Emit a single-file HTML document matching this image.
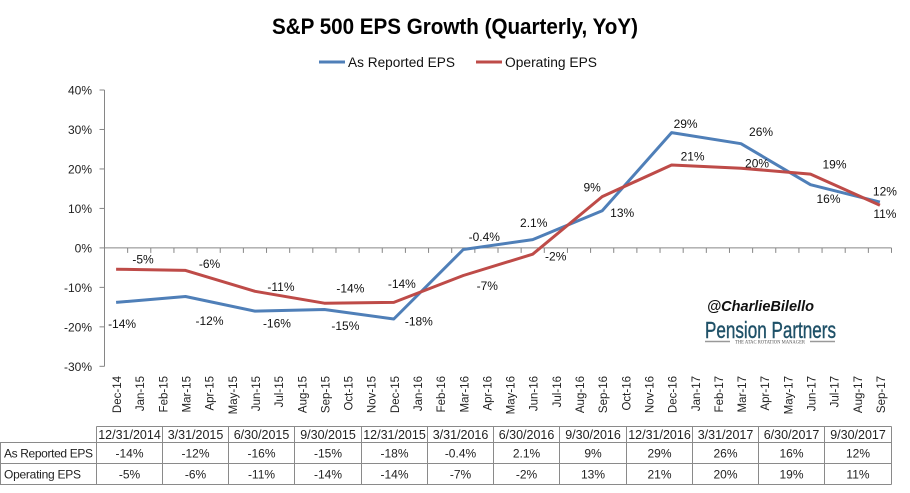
<!DOCTYPE html>
<html lang="en">
<head>
<meta charset="utf-8">
<title>S&amp;P 500 EPS Growth (Quarterly, YoY)</title>
<style>
html,body{margin:0;padding:0;background:#fff;width:910px;height:493px;overflow:hidden}
svg{display:block;font-family:"Liberation Sans",sans-serif}
</style>
</head>
<body>
<svg id="chart" width="910" height="493" viewBox="0 0 910 493" xmlns="http://www.w3.org/2000/svg">
  <rect width="910" height="493" fill="#ffffff"/>
  <text x="272" y="34" font-size="22" font-weight="bold" fill="#000" textLength="366" lengthAdjust="spacingAndGlyphs">S&amp;P 500 EPS Growth (Quarterly, YoY)</text>
  <g>
    <line x1="319" y1="62" x2="345" y2="62" stroke="#4F7FB8" stroke-width="3"/>
    <text x="348" y="67" font-size="13.5" fill="#111" textLength="107" lengthAdjust="spacingAndGlyphs">As Reported EPS</text>
    <line x1="476" y1="62" x2="502" y2="62" stroke="#BE4B48" stroke-width="3"/>
    <text x="505" y="67" font-size="13.5" fill="#111" textLength="92" lengthAdjust="spacingAndGlyphs">Operating EPS</text>
  </g>
  <g id="axes"></g>
  <g id="series"></g>
  <g id="labels"></g>
  <g>
    <text x="707" y="311" font-size="15" font-weight="bold" font-style="italic" fill="#111" textLength="107" lengthAdjust="spacingAndGlyphs">@CharlieBilello</text>
    <text x="705" y="338" font-size="23.5" fill="#1f5168" stroke="#1f5168" stroke-width="0.4" textLength="131" lengthAdjust="spacingAndGlyphs">Pension Partners</text>
    <line x1="705" y1="341.5" x2="730" y2="341.5" stroke="#999" stroke-width="1.6"/>
    <line x1="810" y1="341.5" x2="835" y2="341.5" stroke="#999" stroke-width="1.6"/>
    <text x="735" y="343.5" font-size="5" font-family="Liberation Serif, serif" fill="#555" textLength="70" lengthAdjust="spacingAndGlyphs">THE ATAC ROTATION MANAGER</text>
  </g>
  <g id="table"></g>
</svg>
<script>
// ---- data ----
const months = ["Dec-14","Jan-15","Feb-15","Mar-15","Apr-15","May-15","Jun-15","Jul-15","Aug-15","Sep-15","Oct-15","Nov-15","Dec-15","Jan-16","Feb-16","Mar-16","Apr-16","May-16","Jun-16","Jul-16","Aug-16","Sep-16","Oct-16","Nov-16","Dec-16","Jan-17","Feb-17","Mar-17","Apr-17","May-17","Jun-17","Jul-17","Aug-17","Sep-17"];
const quarterMonths = ["Dec-14","Mar-15","Jun-15","Sep-15","Dec-15","Mar-16","Jun-16","Sep-16","Dec-16","Mar-17","Jun-17","Sep-17"];
const quarterDates = ["12/31/2014","3/31/2015","6/30/2015","9/30/2015","12/31/2015","3/31/2016","6/30/2016","9/30/2016","12/31/2016","3/31/2017","6/30/2017","9/30/2017"];
const asReported = [-13.8,-12.3,-16,-15.6,-18,-0.4,2.1,9.4,29.2,26.4,16,11.6];
const operating = [-5.4,-5.7,-11,-14,-13.8,-7,-1.6,13,21,20.2,18.7,10.8];
const asReportedText = ["-14%","-12%","-16%","-15%","-18%","-0.4%","2.1%","9%","29%","26%","16%","12%"];
const operatingText = ["-5%","-6%","-11%","-14%","-14%","-7%","-2%","13%","21%","20%","19%","11%"];
const yTicks = [40,30,20,10,0,-10,-20,-30];

// ---- manual label nudges (dx, dy from each point, as in the source chart) ----
const asReportedNudge = [[6,21],[24,24],[22,12],[21,16],[25,2],[21,-13],[1,-17],[-10,-24],[14,-9],[20,-12],[18,14],[5,-11]];
const operatingNudge = [[27,-10],[24,-7],[26,-5],[26,-15],[8,-19],[24,10],[23,2],[20,16],[21,-9],[16,-5],[24,-10],[5,8]];

// ---- scales ----
const plotLeft = 104.5, plotRight = 891.5, y40 = 90, y0 = 247.9, pxPerPct = (y0 - y40) / 40;
const step = (plotRight - plotLeft) / months.length;
const xScale = i => plotLeft + step * (i + 0.5);
const yScale = v => y0 - v * pxPerPct;
const NS = "http://www.w3.org/2000/svg";
const AXIS = "#868686";
const make = (parent, tag, attrs, txt) => {
  const n = document.createElementNS(NS, tag);
  for (const k in attrs) n.setAttribute(k, attrs[k]);
  if (txt !== undefined) n.textContent = txt;
  parent.appendChild(n);
  return n;
};
const axes = document.getElementById("axes");
const seriesG = document.getElementById("series");
const labelsG = document.getElementById("labels");
const tableG = document.getElementById("table");

// ---- y axis ----
let el = make(axes, "line", {x1: plotLeft, x2: plotLeft, y1: yScale(yTicks[0]), y2: yScale(yTicks[yTicks.length - 1]), stroke: AXIS, "stroke-width": 1});


yTicks.forEach(t => {
  const tick = make(axes, "line", {x1: plotLeft - 5, x2: plotLeft, y1: yScale(t), y2: yScale(t), stroke: AXIS, "stroke-width": 1});
  
  
  const lab = make(axes, "text", {x: 92, y: yScale(t) + 4.5, "text-anchor": "end", "font-size": 12, fill: "#222"}, t + "%");
  
  
});

// ---- x axis ----
el = make(axes, "line", {x1: plotLeft, x2: plotRight, y1: y0, y2: y0, stroke: AXIS, "stroke-width": 1});


for (let i = 0; i <= months.length; i++) {
  const px = plotLeft + step * i;
  const tick = make(axes, "line", {x1: px, x2: px, y1: y0, y2: y0 + 5, stroke: AXIS, "stroke-width": 1});
  
  
}
months.forEach((m, i) => {
  const cx = xScale(i) + 5;
  const lab = make(axes, "text", {x: cx, y: 376, transform: "rotate(-90 " + cx + " 376)", "text-anchor": "end", "font-size": 11.5, fill: "#222"}, m);
  
  
});

// ---- series ----
const monthX = m => xScale(months.indexOf(m));
const drawSeries = (vals, color, name) => {
  const pts = vals.map((v, i) => monthX(quarterMonths[i]).toFixed(1) + "," + yScale(v).toFixed(1)).join(" ");
  const line = make(seriesG, "polyline", {points: pts, fill: "none", stroke: color, "stroke-width": 3, "stroke-linejoin": "round"});
  
  
};
drawSeries(asReported, "#4F7FB8", "as-reported-line");
drawSeries(operating, "#BE4B48", "operating-line");

// ---- data labels ----
const drawLabels = (vals, texts, nudges) => {
  vals.forEach((v, i) => {
    const t = make(labelsG, "text", {x: monthX(quarterMonths[i]) + nudges[i][0], y: yScale(v) + nudges[i][1] + 4.5, "text-anchor": "middle", "font-size": 12, fill: "#111"}, texts[i]);
    
    
  });
};
drawLabels(asReported, asReportedText, asReportedNudge);
drawLabels(operating, operatingText, operatingNudge);

// ---- table ----
const TBL = "#8a8a8a";
const colX = [96.5,162.5,228.5,294.5,361.5,427.5,493.5,559.5,626.5,692.5,758.5,824.5,891.5];
const rowY = [426.5,442.5,463.5,484.5];
const rowLine = (x1, x2, y) => {
  const l = make(tableG, "line", {x1: x1, x2: x2, y1: y, y2: y, stroke: TBL, "stroke-width": 1});
  
  
};
const colLine = (x, y1, y2) => {
  const l = make(tableG, "line", {x1: x, x2: x, y1: y1, y2: y2, stroke: TBL, "stroke-width": 1});
  
  
};
rowLine(colX[0], colX[12], rowY[0]);
rowLine(0, colX[12], rowY[1]);
rowLine(0, colX[12], rowY[2]);
rowLine(0, colX[12], rowY[3]);
colLine(0.5, rowY[1], rowY[3]);
colX.forEach(x => colLine(x, rowY[0], rowY[3]));
const cell = (x, y, txt, anchor, name, size) => {
  const c = make(tableG, "text", {x: x, y: y, "text-anchor": anchor, "font-size": size, fill: "#222"}, txt);
  
  
  return c;
};
cell(4, 457.5, "As Reported EPS", "start", "table-row-header", 12).setAttribute('textLength', '89');
cell(4, 478.5, "Operating EPS", "start", "table-row-header", 12).setAttribute('textLength', '77');
quarterDates.forEach((d, i) => {
  const cx = (colX[i] + colX[i + 1]) / 2;
  cell(cx, 439, d, "middle", "table-date-header", 12.5);
  cell(cx, 457.5, asReportedText[i], "middle", "table-cell-as-reported", 12);
  cell(cx, 478.5, operatingText[i], "middle", "table-cell-operating", 12);
});
</script>
</body>
</html>
